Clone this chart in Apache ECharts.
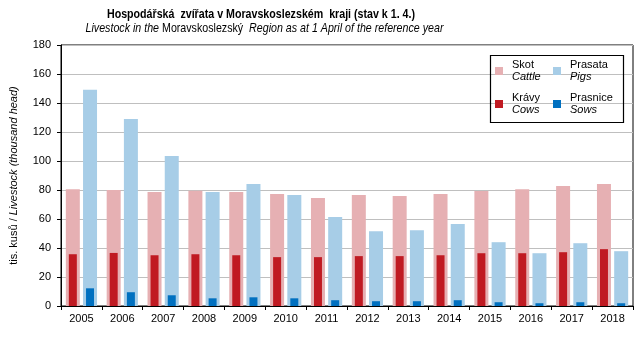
<!DOCTYPE html>
<html>
<head>
<meta charset="utf-8">
<script src="https://cdn.jsdelivr.net/npm/echarts@6/dist/echarts.min.js"></script>
<style>html,body{margin:0;padding:0;background:#fff}#c{width:643px;height:337px}</style>
</head>
<body>
<div id="c"></div>
<script>
const years = ['2005','2006','2007','2008','2009','2010','2011','2012','2013','2014','2015','2016','2017','2018'];
const cattle = [80.6,80.0,78.6,79.5,78.6,77.2,74.4,76.5,75.8,77.2,79.3,80.6,82.7,84.1];
const pigs = [149.1,129.0,103.5,78.6,84.1,76.5,61.3,51.6,52.3,56.5,44.0,36.4,43.3,37.8];
const cows = [35.7,36.6,35.0,35.7,35.0,33.7,33.7,34.4,34.4,35.0,36.4,36.4,37.1,39.2];
const sows = [12.2,9.5,7.4,5.3,6.0,5.3,4.0,3.3,3.3,4.0,2.6,1.9,2.6,1.9];
const yTicks = [0,20,40,60,80,100,120,140,160,180];

const names = {
  'Skot': 'Cattle', 'Prasata': 'Pigs', 'Krávy': 'Cows', 'Prasnice': 'Sows'
};
const FONT = 'Liberation Sans, Arial, sans-serif';
const legendText = {
  fontFamily: FONT, fontSize: 11, color: '#000', lineHeight: 12,
  rich: {
    a: {fontFamily: FONT, fontSize: 11, lineHeight: 12, color: '#000', padding: [0, 0, 0, 4]},
    b: {fontFamily: FONT, fontSize: 11, lineHeight: 12, fontStyle: 'italic', color: '#000', padding: [0, 0, 0, 4]}
  }
};
function mkLegend(name, left, top) {
  return {
    data: [name], left: left, top: top, orient: 'horizontal',
    itemWidth: 8, itemHeight: 8, icon: 'rect', padding: 0,
    selectedMode: false,
    formatter: n => '{a|' + n + '}\n{b|' + names[n] + '}',
    textStyle: legendText
  };
}

const chart = echarts.init(document.getElementById('c'));
chart.setOption({
  animation: false,
  backgroundColor: '#fff',
  legend: [
    mkLegend('Skot', 495, 59),
    mkLegend('Prasata', 553, 59),
    mkLegend('Krávy', 495, 92),
    mkLegend('Prasnice', 553, 92)
  ],
  graphic: [{
    type: 'text', x: 261, y: 14.5, scaleX: 0.82, z: 100,
    style: {
      text: 'Hospodářská  zvířata v Moravskoslezském  kraji (stav k 1. 4.)',
      font: 'bold 13px ' + FONT, fill: '#000',
      textAlign: 'center', textVerticalAlign: 'middle'
    }
  }, {
    type: 'text', x: 264.5, y: 28, scaleX: 0.82, z: 100,
    style: {
      text: '{i|Livestock in the }{n|Moravskoslezský}{i|  Region as at 1 April of the reference year}',
      font: '13px ' + FONT, fill: '#000',
      textAlign: 'center', textVerticalAlign: 'middle',
      rich: {
        i: {fontFamily: FONT, fontSize: 13, fontStyle: 'italic', fill: '#000'},
        n: {fontFamily: FONT, fontSize: 13, fill: '#000'}
      }
    }
  }, {
    type: 'rect', left: 488, top: 53, z: 100,
    shape: {width: 133, height: 67},
    style: {fill: 'none', stroke: '#000', lineWidth: 1.2}
  }],
  grid: {
    left: 60, right: 10, top: 45, bottom: 31,
    show: true, borderColor: '#000', borderWidth: 1, backgroundColor: 'transparent'
  },
  xAxis: [{
    type: 'category', data: years,
    axisLine: {show: true, lineStyle: {color: '#000', width: 1}},
    axisTick: {show: true, length: 4, lineStyle: {color: '#000'}},
    axisLabel: {fontFamily: FONT, fontSize: 11, color: '#000', margin: 7}
  }, {
    type: 'category', data: years, show: false
  }],
  yAxis: {
    type: 'value', min: yTicks[0], max: yTicks[yTicks.length - 1], interval: 20,
    axisLine: {show: true, lineStyle: {color: '#000', width: 1}},
    axisTick: {show: true, length: 4, lineStyle: {color: '#000'}},
    axisLabel: {fontFamily: FONT, fontSize: 11, color: '#000', margin: 10},
    splitLine: {show: true, lineStyle: {color: '#BFBFBF', width: 1}},
    name: '{a|tis. kusů / }{b|Livestock (thousand head)}',
    nameLocation: 'middle', nameRotate: 90, nameGap: 42,
    nameTextStyle: {
      fontFamily: FONT, fontSize: 11, color: '#000',
      rich: {
        a: {fontFamily: FONT, fontSize: 11, color: '#000'},
        b: {fontFamily: FONT, fontSize: 11, fontStyle: 'italic', color: '#000'}
      }
    }
  },
  series: [
    {name: 'Skot', type: 'bar', xAxisIndex: 0, data: cattle, barWidth: 14, barGap: '23%', itemStyle: {color: '#E6B0B3'}, z: 2},
    {name: 'Prasata', type: 'bar', xAxisIndex: 0, data: pigs, barWidth: 14, barGap: '23%', itemStyle: {color: '#A7CDE7'}, z: 2},
    {name: 'Krávy', type: 'bar', xAxisIndex: 1, data: cows, barWidth: 8, barGap: '115%', itemStyle: {color: '#C01A22'}, z: 3},
    {name: 'Prasnice', type: 'bar', xAxisIndex: 1, data: sows, barWidth: 8, barGap: '115%', itemStyle: {color: '#0070C0'}, z: 3}
  ]
});
</script>
</body>
</html>
